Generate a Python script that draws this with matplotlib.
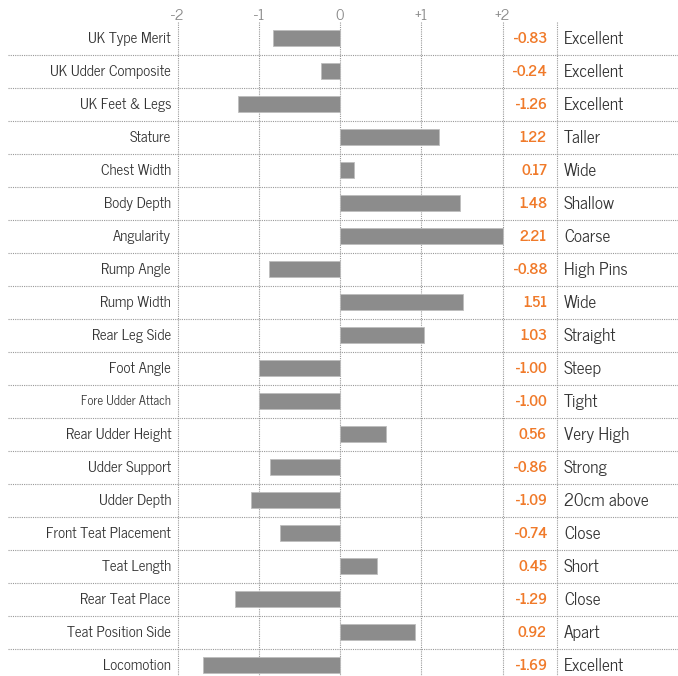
import matplotlib
matplotlib.use("Agg")
import matplotlib.pyplot as plt
import numpy as np

traits = ["UK Type Merit", "UK Udder Composite", "UK Feet & Legs", "Stature", "Chest Width",
          "Body Depth", "Angularity", "Rump Angle", "Rump Width", "Rear Leg Side", "Foot Angle",
          "Fore Udder Attach", "Rear Udder Height", "Udder Support", "Udder Depth",
          "Front Teat Placement", "Teat Length", "Rear Teat Place", "Teat Position Side", "Locomotion"]
values = [-0.83, -0.24, -1.26, 1.22, 0.17, 1.48, 2.21, -0.88, 1.51, 1.03, -1.00,
          -1.00, 0.56, -0.86, -1.09, -0.74, 0.45, -1.29, 0.92, -1.69]
descriptors = ["Excellent", "Excellent", "Excellent", "Taller", "Wide", "Shallow", "Coarse",
               "High Pins", "Wide", "Straight", "Steep", "Tight", "Very High", "Strong",
               "20cm above", "Close", "Short", "Close", "Apart", "Excellent"]
tick_vals = [-2, -1, 0, 1, 2]
tick_labels = ["-2", "-1", "0", "+1", "+2"]

W, H = 678, 676
fig = plt.figure(figsize=(W / 100, H / 100), dpi=100)
ax = fig.add_axes([0, 0, 1, 1])
ax.axis("off")

x0px, ppu = 340, 81.25
y0px, rowpx = 38, 33
ax.set_xlim((0 - x0px) / ppu, (W - x0px) / ppu)
ax.set_ylim((H - y0px) / rowpx, (0 - y0px) / rowpx)

def px2x(p):
    return (p - x0px) / ppu

def py2y(p):
    return (p - y0px) / rowpx

font = ["News Cycle", "Roboto Condensed", "DejaVu Sans"]
renderer = fig.canvas.get_renderer()

def fit(s, target_px, weight="normal"):
    t = fig.text(0, 0, s, fontsize=12, family=font, fontweight=weight)
    w = t.get_window_extent(renderer).width
    t.remove()
    return 12 * target_px / w

fs_label = fit("Front Teat Placement", 125)
fs_small = fit("Fore Udder Attach", 89)
fs_val = fit("-0.83", 33, "bold")
fs_desc = fit("Excellent", 60)

n = len(traits)
ypos = np.arange(n)

# grid
ytop = py2y(22)
ybot = py2y(H)
for t in tick_vals:
    ax.plot([t, t], [ytop, ybot], color="#999999", lw=0.8, ls=(0, (1, 1)), zorder=1)
sepx = px2x(557)
ax.plot([sepx, sepx], [ytop, ybot], color="#999999", lw=0.8, ls=(0, (1, 1)), zorder=1)
for i in range(n - 1):
    ax.plot([px2x(8), px2x(W)], [i + 0.5, i + 0.5], color="#999999", lw=0.8,
            ls=(0, (1, 1)), zorder=1)

# bars
vals = np.clip(np.array(values), -2, 2)
ax.barh(ypos, vals, height=0.5, color="#8c8c8c", edgecolor="#bdbdbd", lw=0.6, zorder=2)

def put(x, y, s, fs, ha, color, weight="normal"):
    ax.annotate(s, (x, y), xytext=(0, -0.35 * fs), textcoords="offset points",
                ha=ha, va="baseline", fontsize=fs, color=color, fontweight=weight,
                family=font)

# tick labels
for t, lab in zip(tick_vals, tick_labels):
    put(t, py2y(15), lab, 11, "center", "#8a8a8a")

for i, (name, v, d) in enumerate(zip(traits, values, descriptors)):
    fs = fs_small if name == "Fore Udder Attach" else fs_label
    put(px2x(171), i, name, fs, "right", "#333333")
    put(px2x(547), i, f"{v:.2f}", fs_val, "right", "#f07a2a", "bold")
    put(px2x(564), i, d, fs_desc, "left", "#333333")

fig.savefig("out.png", dpi=100)
